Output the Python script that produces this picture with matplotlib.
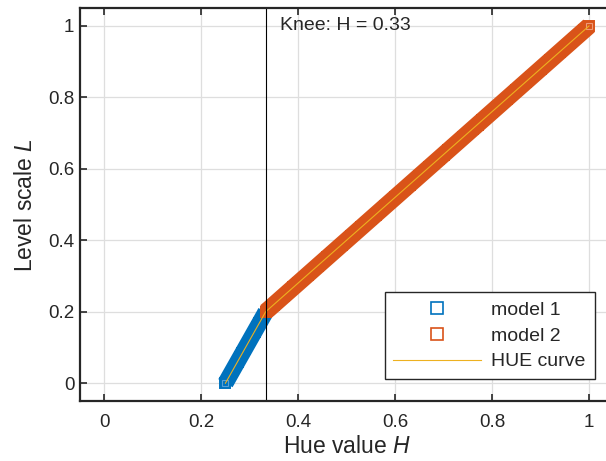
import numpy as np
import matplotlib
matplotlib.use("Agg")
from matplotlib import pyplot as plt

plt.rcParams['font.family'] = ['Liberation Sans', 'DejaVu Sans']
plt.rcParams['mathtext.fontset'] = 'custom'
plt.rcParams['mathtext.it'] = 'Liberation Sans:italic'
plt.rcParams['mathtext.rm'] = 'Liberation Sans'

# model 1 : steep segment below the knee
h_model1 = [0.250, 0.255, 0.260, 0.265, 0.270, 0.275, 0.280, 0.285, 0.290,
            0.295, 0.300, 0.305, 0.310, 0.315, 0.320, 0.325, 0.330, 0.333]
l_model1 = [0.000, 0.012, 0.024, 0.036, 0.048, 0.060, 0.072, 0.084, 0.096,
            0.108, 0.120, 0.132, 0.144, 0.156, 0.168, 0.180, 0.192, 0.200]

# model 2 : shallow segment above the knee
h_model2 = [0.333, 0.34, 0.35, 0.36, 0.37, 0.38, 0.39, 0.40, 0.41, 0.42,
            0.43, 0.44, 0.45, 0.46, 0.47, 0.48, 0.49, 0.50, 0.51, 0.52,
            0.53, 0.54, 0.55, 0.56, 0.57, 0.58, 0.59, 0.60, 0.61, 0.62,
            0.63, 0.64, 0.65, 0.66, 0.67, 0.68, 0.69, 0.70, 0.71, 0.72,
            0.73, 0.74, 0.75, 0.76, 0.77, 0.78, 0.79, 0.80, 0.81, 0.82,
            0.83, 0.84, 0.85, 0.86, 0.87, 0.88, 0.89, 0.90, 0.91, 0.92,
            0.93, 0.94, 0.95, 0.96, 0.97, 0.98, 0.99, 1.00]
l_model2 = [0.200, 0.208, 0.220, 0.232, 0.244, 0.256, 0.268, 0.280, 0.292, 0.304,
            0.316, 0.328, 0.340, 0.352, 0.364, 0.376, 0.388, 0.400, 0.412, 0.424,
            0.436, 0.448, 0.460, 0.472, 0.484, 0.496, 0.508, 0.520, 0.532, 0.544,
            0.556, 0.568, 0.580, 0.592, 0.604, 0.616, 0.628, 0.640, 0.652, 0.664,
            0.676, 0.688, 0.700, 0.712, 0.724, 0.736, 0.748, 0.760, 0.772, 0.784,
            0.796, 0.808, 0.820, 0.832, 0.844, 0.856, 0.868, 0.880, 0.892, 0.904,
            0.916, 0.928, 0.940, 0.952, 0.964, 0.976, 0.988, 1.000]

# HUE curve break points
h_curve = [0.25, 0.333, 1.0]
l_curve = [0.0, 0.2, 1.0]

knee = 0.333
xticks = [0, 0.2, 0.4, 0.6, 0.8, 1]
yticks = [0, 0.2, 0.4, 0.6, 0.8, 1]
ticklabels = ['0', '0.2', '0.4', '0.6', '0.8', '1']

blue = '#0072BD'
orange = '#D95319'
yellow = '#EDB120'
dark = '#262626'

fig = plt.figure(figsize=(6.06, 4.61), dpi=100)
ax = fig.add_axes([0.132, 0.130, 0.880, 0.8525])

# the densely packed square markers merge into a band: draw it as a thick
# stroke through the samples, with square markers giving the square ends
ax.plot(h_model1, l_model1, '-', color=blue, lw=11.8, solid_capstyle='butt')
ax.plot(h_model1, l_model1, 's', mfc=blue, mec=blue, ms=7.2, mew=1.4)
ax.plot(h_model2, l_model2, '-', color=orange, lw=12.2, solid_capstyle='butt')
ax.plot(h_model2, l_model2, 's', mfc=orange, mec=orange, ms=7.2, mew=1.4)
ax.plot(h_model2[-1:], l_model2[-1:], 's', mfc='none', mec='#ee9a78', ms=4.0, mew=0.8)
ax.plot(h_model1[:1], l_model1[:1], 's', mfc='none', mec='#5aa0d6', ms=4.0, mew=0.8)
ax.plot(h_curve, l_curve, '-', color=yellow, lw=0.8)
ax.axvline(knee, color='black', lw=0.8)
ax.text(knee + 0.03, 1.0, 'Knee: H = %.2f' % knee, fontsize=14, color=dark,
        va='center', ha='left')

ax.set_xlim(-0.05, 1.05)
ax.set_ylim(-0.05, 1.05)
ax.set_xticks(xticks)
ax.set_yticks(yticks)
ax.set_xticklabels(ticklabels)
ax.set_yticklabels(ticklabels)
ax.tick_params(direction='in', length=5, width=1.2, colors=dark, labelsize=13.5,
               top=True, right=True)
ax.tick_params(axis='x', pad=9)
ax.tick_params(axis='y', pad=4)
ax.grid(True, color='#dedede', lw=0.9)
ax.set_axisbelow(True)
for s in ax.spines.values():
    s.set_color(dark)
    s.set_linewidth(1.6)

ax.set_xlabel('Hue value $H$', fontsize=16.5, color=dark, labelpad=3)
ax.set_ylabel('Level scale $L$', fontsize=16.5, color=dark, labelpad=8)

# legend with open square markers (thin edges as in the reference)
h1, = ax.plot([], [], 's', mfc='none', mec=blue, ms=8.5, mew=1.2)
h2, = ax.plot([], [], 's', mfc='none', mec=orange, ms=8.5, mew=1.2)
h3, = ax.plot([], [], '-', color=yellow, lw=0.8)
leg = ax.legend([h1, h2, h3], ['model 1', 'model 2', 'HUE curve'],
                loc='lower right', bbox_to_anchor=(0.965, 0.056), fontsize=14,
                frameon=True, fancybox=False, edgecolor=dark, framealpha=1,
                handlelength=4.5, borderpad=0.45, borderaxespad=0,
                labelspacing=0.42, handletextpad=0.55)
leg.get_frame().set_linewidth(1.0)
for t in leg.get_texts():
    t.set_color(dark)

fig.savefig('out.png', dpi=100)
